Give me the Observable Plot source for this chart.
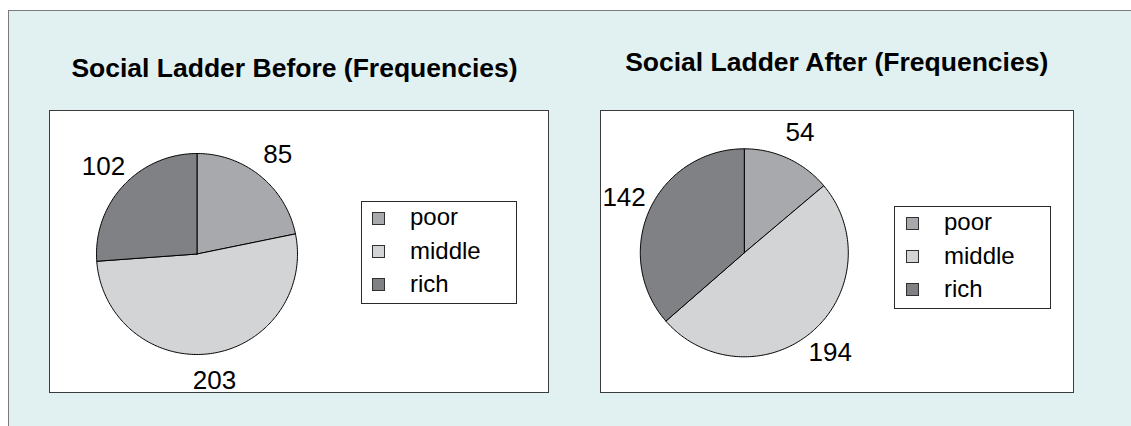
<!DOCTYPE html>
<html>
<head>
<meta charset="utf-8">
<script src="https://cdn.jsdelivr.net/npm/d3@7"></script>
<script src="https://cdn.jsdelivr.net/npm/@observablehq/plot@0.6"></script>
<style>
  html, body { margin: 0; padding: 0; background: #ffffff; }
  #root { position: relative; width: 1131px; height: 426px; overflow: hidden; background: #ffffff;
          font-family: "Liberation Sans", Arial, Helvetica, sans-serif; }
  .frame { position: absolute; left: 8px; top: 10px; right: -2px; bottom: -2px; background: #e1f1f1;
           border-top: 1px solid #7a7a7a; border-left: 1px solid #7a7a7a; }
  .panel { position: absolute; box-sizing: border-box; background: #ffffff; border: 1px solid #3c3c3c; }
  .title { position: absolute; width: 600px; text-align: center; font-weight: bold; font-size: 26.5px;
           line-height: 26.5px; color: #000; white-space: nowrap; }
  .legend { position: absolute; box-sizing: border-box; background: #ffffff; border: 1px solid #2a2a2a; }
  .sw { position: absolute; box-sizing: border-box; width: 13px; height: 13px; border: 1px solid #303030; }
  .lt { position: absolute; font-size: 24px; line-height: 24px; color: #000; white-space: nowrap; }
  svg.pie { position: absolute; }
</style>
</head>
<body>
<div id="root"><div class="frame"></div></div>
<script>
// ---- data ----
const categories = ["poor", "middle", "rich"];
const beforeValues = [85, 203, 102];
const afterValues = [54, 194, 142];
const chartTitles = ["Social Ladder Before (Frequencies)", "Social Ladder After (Frequencies)"];
const sliceColors = ["#a8a9ad", "#d3d4d6", "#808185"];

// ---- layout (page pixels) ----
const layouts = [
  { values: beforeValues, title: chartTitles[0], titleCx: 294.5, titleTop: 55,
    panel: { left: 49, top: 110, width: 500, height: 283 },
    pie: { cx: 196.5, cy: 253.5, r: 100.5 },
    legend: { left: 361, top: 201, width: 156, height: 103, swX: 372, txX: 410 } },
  { values: afterValues, title: chartTitles[1], titleCx: 836.7, titleTop: 48.6,
    panel: { left: 600, top: 110, width: 474, height: 283 },
    pie: { cx: 743.8, cy: 252.3, r: 104 },
    legend: { left: 894, top: 206, width: 157, height: 103, swX: 906, txX: 944 } }
];

const root = document.getElementById("root");

function slicePolygons(values) {
  const total = d3.sum(values);
  const pts = [];
  const labels = [];
  let acc = 0;
  values.forEach((v, i) => {
    const a0 = acc / total * 2 * Math.PI;
    acc += v;
    const a1 = acc / total * 2 * Math.PI;
    const n = Math.max(2, Math.ceil((a1 - a0) / (Math.PI / 180)));
    const cat = categories[i];
    pts.push({ cat, x: 0, y: 0 });
    for (let k = 0; k <= n; k++) {
      const a = a0 + (a1 - a0) * k / n;
      pts.push({ cat, x: Math.sin(a), y: Math.cos(a) });
    }
    pts.push({ cat, x: 0, y: 0 });
    const am = (a0 + a1) / 2;
    labels.push({ cat, value: v, x: 1.27 * Math.sin(am), y: 1.27 * Math.cos(am) });
  });
  return { pts, labels };
}

layouts.forEach(L => {
  // title
  const t = document.createElement("div");
  t.className = "title";
  t.style.left = (L.titleCx - 300) + "px";
  t.style.top = L.titleTop + "px";
  t.textContent = L.title;
  root.appendChild(t);

  // panel
  const p = document.createElement("div");
  p.className = "panel";
  Object.assign(p.style, { left: L.panel.left + "px", top: L.panel.top + "px",
    width: L.panel.width + "px", height: L.panel.height + "px" });
  root.appendChild(p);

  // pie via Plot
  const { pts, labels } = slicePolygons(L.values);
  const cx = L.pie.cx - L.panel.left, cy = L.pie.cy - L.panel.top, r = L.pie.r;
  const svg = Plot.plot({
    width: L.panel.width,
    height: L.panel.height,
    margin: 0,
    x: { domain: [-1, 1], range: [cx - r, cx + r], axis: null },
    y: { domain: [-1, 1], range: [cy + r, cy - r], axis: null },
    color: { domain: categories, range: sliceColors },
    style: { background: "transparent", overflow: "visible",
             fontFamily: "'Liberation Sans', Arial, sans-serif" },
    marks: [
      Plot.line(pts, { x: "x", y: "y", z: "cat", fill: "cat", stroke: "#000", strokeWidth: 1,
                       strokeLinejoin: "round", curve: "linear" }),
      Plot.text(labels, { x: "x", y: "y", text: d => String(d.value), fontSize: 26, fill: "#000" })
    ]
  });
  svg.classList.add("pie");
  svg.style.left = L.panel.left + "px";
  svg.style.top = L.panel.top + "px";
  root.appendChild(svg);

  // legend
  const lg = document.createElement("div");
  lg.className = "legend";
  Object.assign(lg.style, { left: L.legend.left + "px", top: L.legend.top + "px",
    width: L.legend.width + "px", height: L.legend.height + "px" });
  root.appendChild(lg);
  categories.forEach((c, i) => {
    const rowC = L.legend.top + 17.3 + 33.2 * i;
    const sw = document.createElement("div");
    sw.className = "sw";
    sw.style.left = L.legend.swX + "px";
    sw.style.top = (rowC - 6.5) + "px";
    sw.style.background = sliceColors[i];
    root.appendChild(sw);
    const tx = document.createElement("div");
    tx.className = "lt";
    tx.style.left = L.legend.txX + "px";
    tx.style.top = (rowC - 13) + "px";
    tx.textContent = c;
    root.appendChild(tx);
  });
});
</script>
</body>
</html>
